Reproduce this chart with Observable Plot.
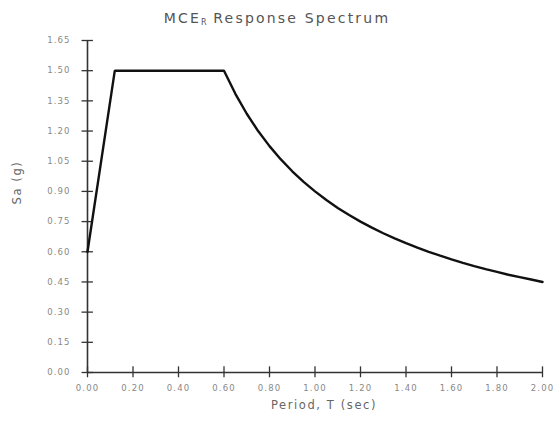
<!DOCTYPE html>
<html><head><meta charset="utf-8">
<script src="https://cdn.jsdelivr.net/npm/d3@7"></script>
<script src="https://cdn.jsdelivr.net/npm/@observablehq/plot@0.6"></script>
<style>
body{margin:0;background:#fff;font-family:"DejaVu Sans",sans-serif;}
#title{width:554px;height:30px;box-sizing:border-box;padding-top:10px;text-align:center;font-size:14px;letter-spacing:2.2px;color:#555;line-height:16px;}
#title sub{font-size:8px;vertical-align:-2px;letter-spacing:0;}
#chart svg [aria-label="y-axis tick label"] text,
#chart svg [aria-label="x-axis tick label"] text{letter-spacing:1.1px;}
#chart svg [aria-label="ylabel"],
#chart svg [aria-label="xlabel"],
#chart svg [aria-label="ylabel"] text,
#chart svg [aria-label="xlabel"] text{letter-spacing:1.6px;}
</style></head>
<body>
<div id="title">MCE<sub>R</sub> Response Spectrum</div>
<div id="chart"></div>
<script>
const periods = [0, 0.12, 0.6, 0.65, 0.7, 0.75, 0.8, 0.85, 0.9, 0.95, 1.0, 1.05, 1.1, 1.15, 1.2, 1.25, 1.3, 1.35, 1.4, 1.45, 1.5, 1.55, 1.6, 1.65, 1.7, 1.75, 1.8, 1.85, 1.9, 1.95, 2.0];
const sa      = [0.6, 1.5, 1.5, 1.385, 1.286, 1.2, 1.125, 1.059, 1.0, 0.947, 0.9, 0.857, 0.818, 0.783, 0.75, 0.72, 0.692, 0.667, 0.643, 0.621, 0.6, 0.581, 0.5625, 0.545, 0.529, 0.514, 0.5, 0.486, 0.474, 0.462, 0.45];
const yTicks = [0, 0.15, 0.30, 0.45, 0.60, 0.75, 0.90, 1.05, 1.20, 1.35, 1.50, 1.65];
const xTicks = [0, 0.2, 0.4, 0.6, 0.8, 1.0, 1.2, 1.4, 1.6, 1.8, 2.0];
const yLabel = "Sa (g)";
const xLabel = "Period, T (sec)";

const data = periods.map((t, i) => ({t, sa: sa[i]}));
const fmt = d3.format(".2f");

const chart = Plot.plot({
  width: 554,
  height: 394,
  marginTop: 10,
  marginLeft: 87,
  marginRight: 12,
  marginBottom: 52,
  style: {fontFamily: "DejaVu Sans, sans-serif", background: "#fff"},
  x: {domain: [0, 2]},
  y: {domain: [0, 1.65]},
  marks: [
    Plot.axisY({ticks: yTicks, tickFormat: fmt, tickSize: 0, tickPadding: 17, fontSize: 8.5, color: "#888", label: null}),
    Plot.axisX({ticks: xTicks, tickFormat: fmt, tickSize: 0, tickPadding: 12, fontSize: 8.5, color: "#888", label: null}),
    Plot.ruleY(yTicks, {y: d => d, x1: -0.024, x2: 0.026, stroke: "#333", strokeWidth: 1.3}),
    Plot.ruleX(xTicks, {x: d => d, y1: -0.026, y2: 0.028, stroke: "#333", strokeWidth: 1.3}),
    Plot.ruleX([0], {stroke: "#333", strokeWidth: 1.6}),
    Plot.ruleY([0], {stroke: "#333", strokeWidth: 1.6}),
    Plot.line(data, {x: "t", y: "sa", curve: "linear", stroke: "#111", strokeWidth: 2.4, strokeLinejoin: "miter"}),
    Plot.text([yLabel], {frameAnchor: "left", dx: -70, dy: -2, rotate: -90, fontSize: 11.5, fill: "#666", ariaLabel: () => "ylabel"}),
    Plot.text([xLabel], {frameAnchor: "bottom", dx: 9, dy: 36, fontSize: 11.5, fill: "#666", ariaLabel: () => "xlabel"})
  ]
});
document.getElementById("chart").appendChild(chart);
</script>
</body></html>
